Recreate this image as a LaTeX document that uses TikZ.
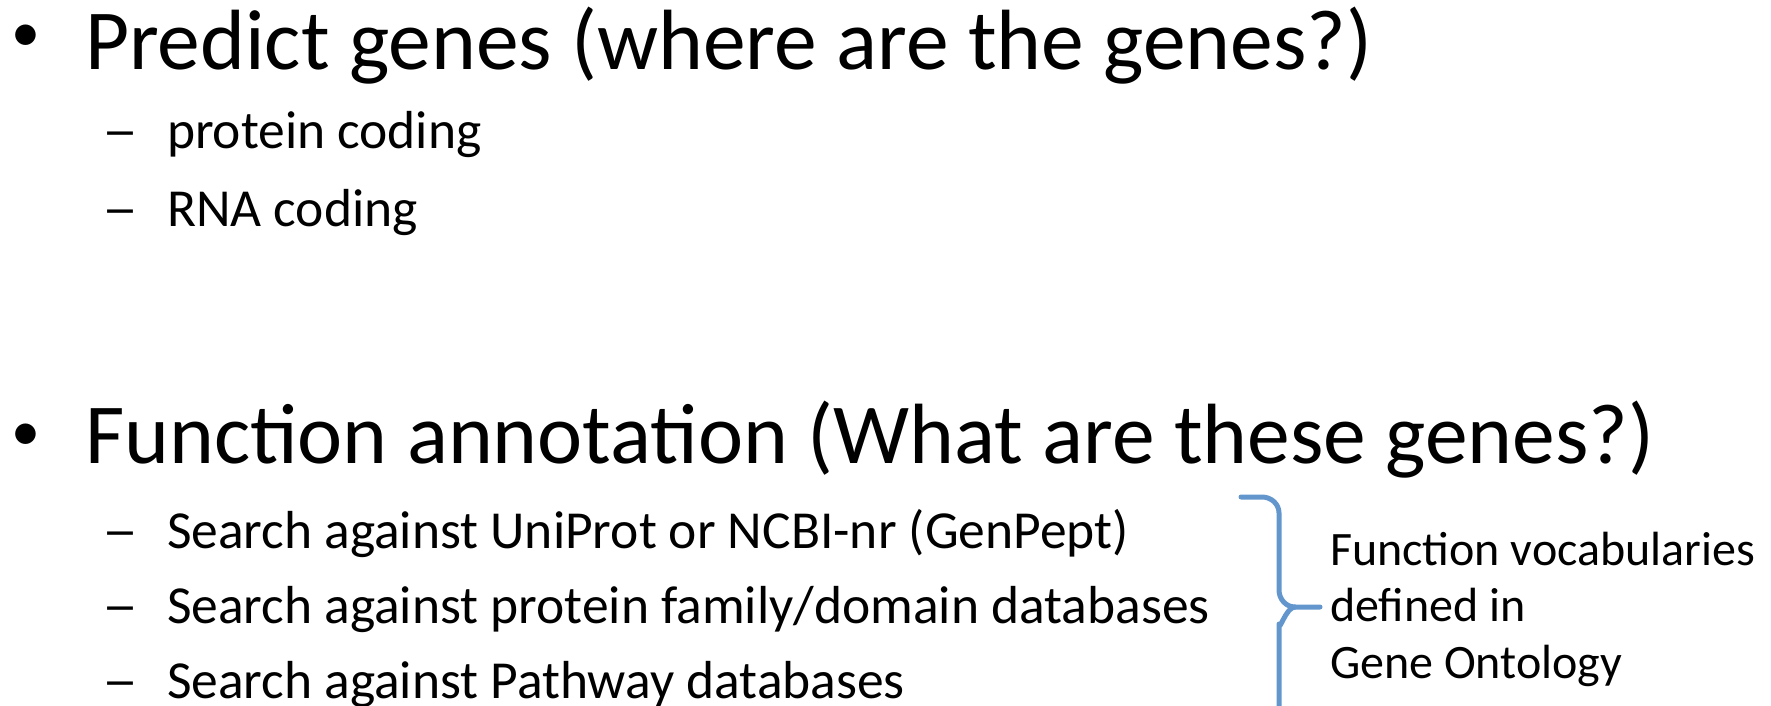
\documentclass[tikz,border=0pt]{standalone}
\usepackage{fontspec}
\usepackage{graphicx}
\setmainfont{Carlito}
\definecolor{bracecol}{HTML}{6396CC}
\newcommand{\subdash}{\scalebox{1.35}[1]{–}}
\begin{document}
\begin{tikzpicture}[x=1pt,y=-1pt,
  txt/.style={anchor=base west,inner sep=0pt,outer sep=0pt},
  big/.style={txt,font=\fontsize{85.5}{100}\selectfont},
  bul/.style={txt,font=\fontsize{58}{70}\selectfont},
  sub/.style={txt,font=\fontsize{53.5}{60}\selectfont},
  note/.style={txt,font=\fontsize{48}{56}\selectfont},
  bracestyle/.style={draw=bracecol,line width=5pt,line cap=round,line join=round}]
\useasboundingbox (0,0) rectangle (1771,706);
% titles
\node[bul] (b1) at (11.5,52) {•};
\node[big] (t1) at (85,70) {Predict genes (where are the genes?)};
\node[sub] (d1) at (102,148) {\subdash};
\node[sub] (s1) at (167,148) {protein coding};
\node[sub] (d2) at (102,226) {\subdash};
\node[sub] (s2) at (167,226) {RNA coding};
\node[bul] (b2) at (11.5,450) {•};
\node[big] (t2) at (85,463) {Function annotation (What are these genes?)};
\node[sub] (d3) at (102,548) {\subdash};
\node[sub] (s3) at (167,548) {Search against UniProt or NCBI-nr (GenPept)};
\node[sub] (d4) at (102,623) {\subdash};
\node[sub] (s4) at (167,623) {Search against protein family/domain databases};
\node[sub] (d5) at (102,698) {\subdash};
\node[sub] (s5) at (167,698) {Search against Pathway databases};
% note
\node[note] (n1) at (1330,565) {Function vocabularies};
\node[note] (n2) at (1330,621) {defined in};
\node[note] (n3) at (1330,678) {Gene Ontology};
% brace
\coordinate (tip) at (1320,607);
\draw[bracestyle]
  (1241,497) -- (1262,497) to[out=0,in=90] (1279,513) -- (1279,590)
  to[out=-90,in=180] (1295,607) -- (tip);
\draw[bracestyle]
  (tip) ++(-25,0) to[out=180,in=-90] ++(-16,17) -- (1279,720);
\end{tikzpicture}
\end{document}
